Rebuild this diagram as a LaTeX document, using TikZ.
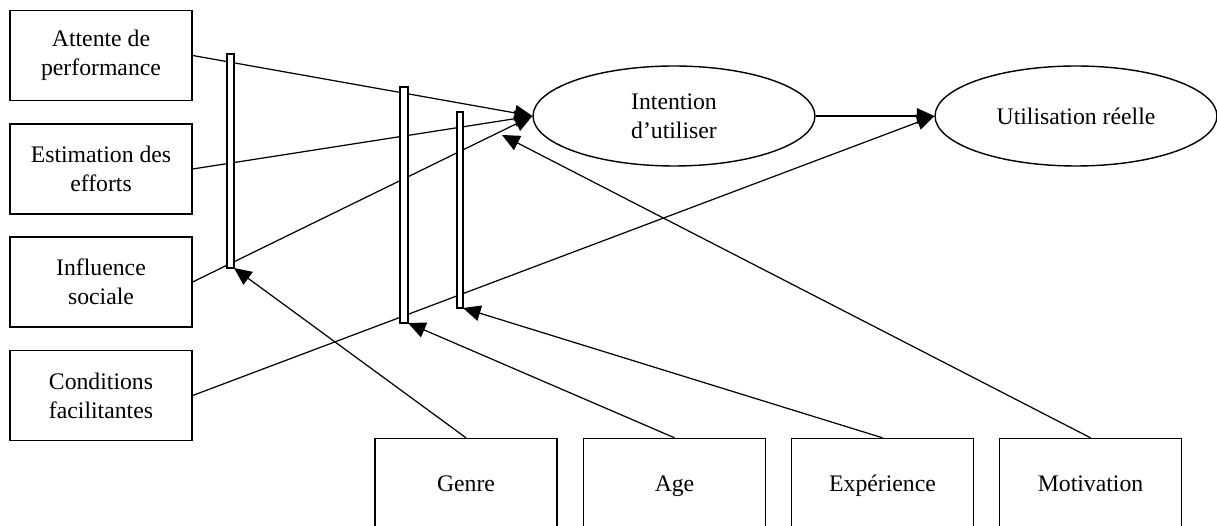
\documentclass[tikz,border=0pt]{standalone}
\usepackage{fontspec}
\setmainfont{Liberation Serif}
\usetikzlibrary{arrows.meta}
\usetikzlibrary{shapes.geometric}

\begin{document}
\begin{tikzpicture}[x=0.02cm,y=-0.02cm,
        boite/.style={draw, thick, minimum width=3.64cm, minimum height=1.8cm, align=center, inner sep=0pt, font=\fontsize{13.5}{16.5}\selectfont},
        bas/.style={boite, minimum height=1.9cm, text height=1.6ex, text depth=.3ex},
        bulle/.style={draw, thick, ellipse, minimum width=5.64cm, minimum height=2cm, align=center, inner sep=0pt, font=\fontsize{13.5}{16.5}\selectfont},
        barre/.style={draw, thick, fill=white},
        fl/.style={-{Triangle[length=10pt,width=9pt]}, line width=0.7pt}]
        \path[use as bounding box, clip] (0,0) rectangle (1217,526);

        % variables
        \node[boite] (att) at (101,55.5) {Attente de\\performance};
        \node[boite] (est) at (101,169) {Estimation des\\efforts};
        \node[boite] (inf) at (101,282) {Influence\\sociale};
        \node[boite] (cond) at (101,395.5) {Conditions\\facilitantes};

        \node[bulle] (inten) at (674,116) {Intention\\d'utiliser};
        \node[bulle] (util) at (1076,116) {Utilisation réelle};

        % moderateurs
        \node[bas] (genre) at (466,486) {Genre};
        \node[bas] (age) at (674.5,486) {Age};
        \node[bas] (exp) at (882.5,486) {Expérience};
        \node[bas] (motiv) at (1090.5,486) {Motivation};

        \coordinate (cible) at (502,135);

        \draw[fl] (att.east) -- (inten.west);
        \draw[fl] (est.east) -- (inten.west);
        \draw[fl] (inf.east) -- (inten.west);
        \draw[fl] (cond.east) -- (util.west);
        \draw[fl] (inten.east) -- (util.west);

        % barres
        \draw[barre] (227,54) rectangle (234,268);
        \draw[barre] (400,87) rectangle (408,323);
        \draw[barre] (457,112) rectangle (463,308);
        \coordinate (b1) at (234,268);
        \coordinate (b2) at (408,323);
        \coordinate (b3) at (463,308);

        \draw[fl] (genre.north) -- (b1);
        \draw[fl] (age.north) -- (b2);
        \draw[fl] (exp.north) -- (b3);
        \draw[fl] (motiv.north) -- (cible);
    \end{tikzpicture}
\end{document}
